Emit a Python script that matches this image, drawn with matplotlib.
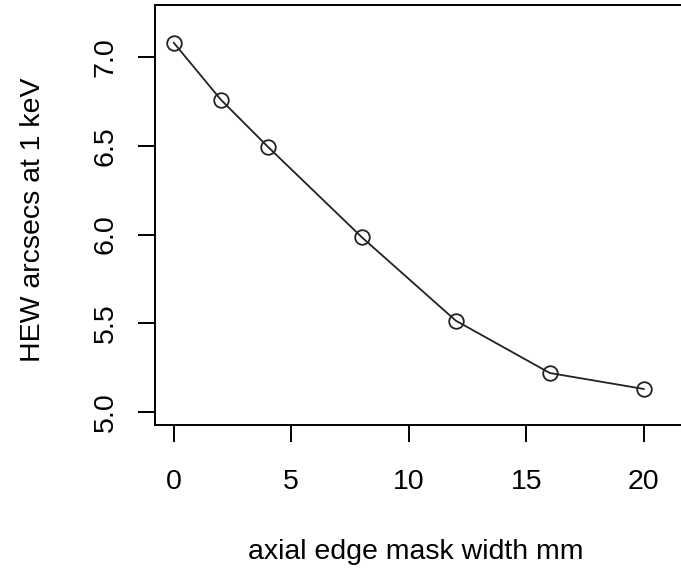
import matplotlib
matplotlib.use('Agg')
import matplotlib.pyplot as plt

plt.rcParams['font.family'] = ['Liberation Sans', 'DejaVu Sans']

# largura da máscara (mm) e HEW (arcsec a 1 keV)
mask_width = [0, 2, 4, 8, 12, 16, 20]
hew = [7.08, 6.76, 6.495, 5.985, 5.515, 5.22, 5.13]

W, H = 681, 568
fig = plt.figure(figsize=(W/100, H/100), dpi=100)

# caixa do gráfico em pixels (esq, topo, dir, base)
x0, y0, x1, y1 = 155, 5, 690, 425
ax = fig.add_axes([x0/W, 1 - y1/H, (x1 - x0)/W, (y1 - y0)/H])

ax.plot(mask_width, hew, color='#222222', lw=1.3, marker='o', ms=10.5,
        mfc='none', mec='#222222', mew=1.3)

ax.set_xlim(-0.8, 21.97)
ax.set_ylim(4.927, 7.293)
ax.set_xticks([0, 5, 10, 15, 20])
ax.set_yticks([5.0, 5.5, 6.0, 6.5, 7.0])
ax.set_yticklabels(['5.0', '5.5', '6.0', '6.5', '7.0'], rotation=90, va='center')

for s in ax.spines.values():
    s.set_linewidth(1.4)
ax.tick_params(direction='out', length=12, width=1.4, labelsize=20.5, pad=20)
ax.tick_params(axis='y', pad=14)

fig.text(33/W, 1 - 220/H, 'HEW arcsecs at 1 keV', rotation=90,
         ha='center', va='center', fontsize=20.5)
fig.text(416/W, 1 - 552/H, 'axial edge mask width mm',
         ha='center', va='center', fontsize=20.5)

fig.savefig('out.png', dpi=100)
